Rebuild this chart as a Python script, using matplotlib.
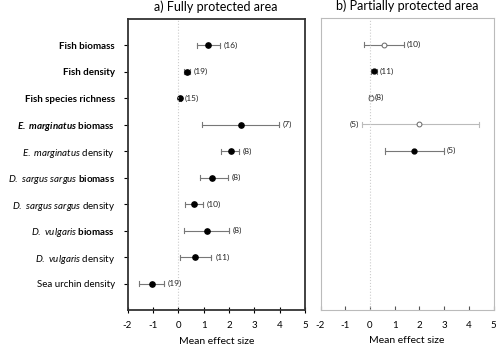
import matplotlib
matplotlib.use("Agg")
import matplotlib.pyplot as plt
import numpy as np

plt.rcParams['font.family'] = ['Lato', 'DejaVu Sans']
plt.rcParams['mathtext.fontset'] = 'custom'
plt.rcParams['mathtext.it'] = 'Lato:italic'
plt.rcParams['mathtext.bfit'] = 'Lato:italic:bold'
plt.rcParams['mathtext.rm'] = 'Lato'

# etiquetas de las variables (de arriba a abajo)
etiquetas = [
    "Fish biomass",
    "Fish density",
    "Fish species richness",
    r"$\mathbfit{E.\ marginatus}$ biomass",
    r"$\mathit{E.\ marginatus}$ density",
    r"$\mathit{D.\ sargus\ sargus}$ biomass",
    r"$\mathit{D.\ sargus\ sargus}$ density",
    r"$\mathit{D.\ vulgaris}$ biomass",
    r"$\mathit{D.\ vulgaris}$ density",
    "Sea urchin density",
]
negrita = [True, True, True, True, False, True, False, True, False, False]

# a) area totalmente protegida
media_a = [1.18, 0.33, 0.07, 2.46, 2.07, 1.35, 0.62, 1.12, 0.68, -1.05]
inf_a = [0.76, 0.22, 0.02, 0.92, 1.67, 0.85, 0.26, 0.24, 0.07, -1.54]
sup_a = [1.64, 0.45, 0.12, 3.98, 2.40, 1.97, 0.96, 2.01, 1.31, -0.56]
n_a = [16, 19, 15, 7, 8, 8, 10, 8, 11, 19]

# b) area parcialmente protegida (solo las 5 primeras filas)
media_b = [0.55, 0.16, 0.03, 2.00, 1.80]
inf_b = [-0.26, 0.05, -0.02, -0.33, 0.59]
sup_b = [1.37, 0.30, 0.08, 4.40, 3.00]
n_b = [10, 11, 8, 5, 5]
relleno_b = [False, True, False, False, True]

xticks = [-2, -1, 0, 1, 2, 3, 4, 5]

fig = plt.figure(figsize=(5, 3.5), dpi=100)
ax1 = fig.add_axes([0.255, 0.114, 0.355, 0.832])
ax2 = fig.add_axes([0.641, 0.114, 0.346, 0.834])

filas = np.arange(1, len(etiquetas) + 1)

# panel a
for i, y in enumerate(filas):
    ax1.plot([inf_a[i], sup_a[i]], [y, y], color='#777777', lw=0.8)
    ax1.plot([inf_a[i], inf_a[i]], [y - 0.1, y + 0.1], color='#777777', lw=0.8)
    ax1.plot([sup_a[i], sup_a[i]], [y - 0.1, y + 0.1], color='#777777', lw=0.8)
    ax1.plot(media_a[i], y, 'o', color='black', ms=3.8)
    ax1.text(sup_a[i] + 0.15, y, "(%d)" % n_a[i], fontsize=6, va='center', color='#222222')

ax1.axvline(0, color='#cccccc', lw=0.8, ls=':')
ax1.set_xlim(-2, 5)
ax1.set_ylim(11, 0)
ax1.set_xticks(xticks)
ax1.set_xticklabels([str(t) for t in xticks], fontsize=7)
ax1.set_yticks(filas)
ax1.set_yticklabels(etiquetas, fontsize=7)
for lab, b in zip(ax1.get_yticklabels(), negrita):
    lab.set_fontweight('bold' if b else 'normal')
ax1.tick_params(axis='y', direction='out', length=3, width=0.8, pad=6)
ax1.tick_params(axis='x', direction='inout', length=4, width=0.8, pad=6)
for s in ax1.spines.values():
    s.set_linewidth(1.3)
    s.set_color('#333333')
ax1.set_xlabel("Mean effect size", fontsize=7.5, labelpad=5)
ax1.set_title("a) Fully protected area", fontsize=9, pad=6)

# panel b
for i in range(len(media_b)):
    y = filas[i]
    c = '#bbbbbb' if i == 3 else '#777777'
    ax2.plot([inf_b[i], sup_b[i]], [y, y], color=c, lw=0.8)
    ax2.plot([inf_b[i], inf_b[i]], [y - 0.1, y + 0.1], color=c, lw=0.8)
    ax2.plot([sup_b[i], sup_b[i]], [y - 0.1, y + 0.1], color=c, lw=0.8)
    if relleno_b[i]:
        ax2.plot(media_b[i], y, 'o', color='black', ms=3.5)
    else:
        ax2.plot(media_b[i], y, 'o', mfc='white', mec='#666666', ms=3.5, mew=0.7)
    if i == 3:
        ax2.text(inf_b[i] - 0.12, y, "(%d)" % n_b[i], fontsize=6, va='center', ha='right', color='#222222')
    else:
        ax2.text(sup_b[i] + 0.1, y, "(%d)" % n_b[i], fontsize=6, va='center', color='#222222')

ax2.axvline(0, color='#cccccc', lw=0.8, ls=':')
ax2.set_xlim(-2, 5)
ax2.set_ylim(11, 0)
ax2.set_xticks(xticks)
ax2.set_xticklabels([str(t) for t in xticks], fontsize=7)
ax2.set_yticks([])
ax2.tick_params(axis='x', direction='in', length=3, width=0.8, color='#555555', pad=8)
for s in ax2.spines.values():
    s.set_linewidth(0.8)
    s.set_color('#bbbbbb')
ax2.set_xlabel("Mean effect size", fontsize=7.5, labelpad=4)
ax2.set_title("b) Partially protected area", fontsize=9, pad=6)

fig.savefig("out.png", dpi=100)
